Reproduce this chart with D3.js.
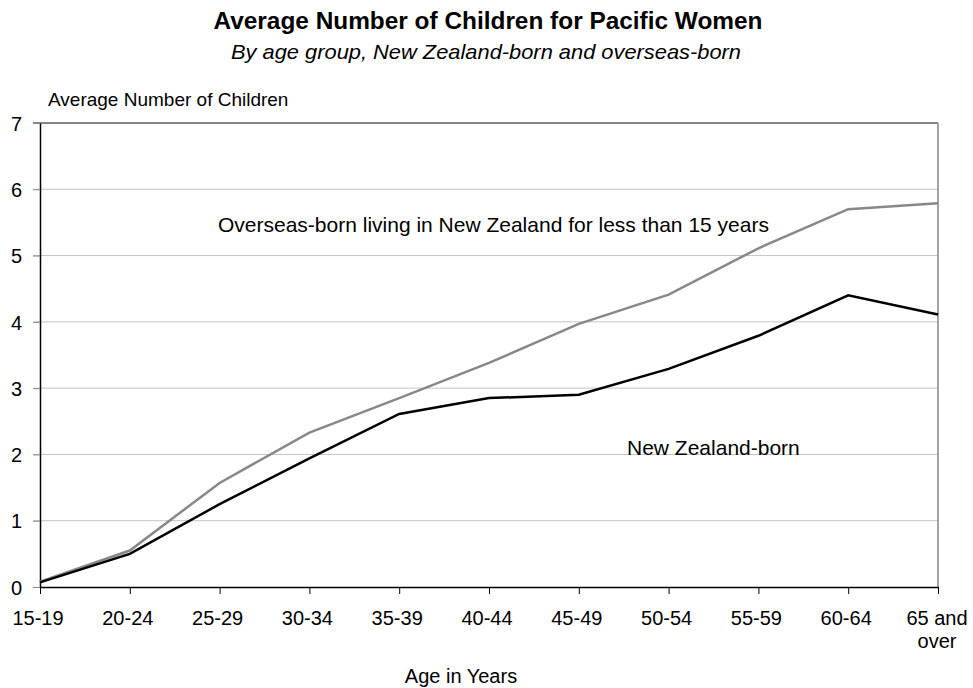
<!DOCTYPE html>
<html>
<head>
<meta charset="utf-8">
<script src="https://cdn.jsdelivr.net/npm/d3@7"></script>
<style>
  html, body { margin: 0; padding: 0; background: #fff; }
  svg { display: block; }
  text { font-family: "Liberation Sans", Arial, sans-serif; fill: #000; }
</style>
</head>
<body>
<svg id="chart" width="973" height="688"></svg>
<script>
// Age groups along the x axis
const ageGroups = ["15-19", "20-24", "25-29", "30-34", "35-39", "40-44",
                   "45-49", "50-54", "55-59", "60-64", "65 and over"];

// Average number of children by age group
const overseasBorn = [0.08, 0.55, 1.57, 2.33, 2.85, 3.38, 3.97, 4.41, 5.11, 5.70, 5.79];
const nzBorn       = [0.07, 0.50, 1.25, 1.94, 2.61, 2.85, 2.90, 3.29, 3.79, 4.40, 4.11];

const yTicks = [0, 1, 2, 3, 4, 5, 6, 7];

const svg = d3.select("#chart");
const plotLeft = 40, plotRight = 938, plotTop = 123, plotBottom = 587;

const x = d3.scalePoint().domain(ageGroups).range([plotLeft, plotRight]);
const y = d3.scaleLinear().domain([0, 7]).range([plotBottom, plotTop]);

// Titles
svg.append("text")
  .attr("x", 488).attr("y", 29)
  .attr("text-anchor", "middle")
  .attr("textLength", 549).attr("lengthAdjust", "spacingAndGlyphs")
  .style("font-weight", "bold")
  .style("font-size", "23px")
  .text("Average Number of Children for Pacific Women");

svg.append("text")
  .attr("x", 486).attr("y", 59)
  .attr("text-anchor", "middle")
  .attr("textLength", 510).attr("lengthAdjust", "spacingAndGlyphs")
  .style("font-style", "italic")
  .style("font-size", "21px")
  .text("By age group, New Zealand-born and overseas-born");

// Horizontal gridlines
svg.append("g")
  .selectAll("line")
  .data(yTicks.filter(d => d > 0 && d < 7))
  .join("line")
  .attr("x1", plotLeft - 7).attr("x2", plotRight)
  .attr("y1", d => y(d)).attr("y2", d => y(d))
  .attr("stroke", "#c4c4c4").attr("stroke-width", 1);

// Plot frame: top and right edges
svg.append("line")
  .attr("x1", plotLeft - 7).attr("x2", plotRight)
  .attr("y1", y(7)).attr("y2", y(7))
  .attr("stroke", "#858585").attr("stroke-width", 2);
svg.append("line")
  .attr("x1", plotRight).attr("x2", plotRight)
  .attr("y1", y(7)).attr("y2", plotBottom)
  .attr("stroke", "#858585").attr("stroke-width", 1.5);

// Y axis
const yAxis = svg.append("g")
  .attr("transform", `translate(${plotLeft},0)`)
  .call(d3.axisLeft(y).tickValues(yTicks).tickFormat(d3.format("d"))
    .tickSize(7).tickSizeOuter(0));
yAxis.select(".domain").attr("stroke", "#000").attr("stroke-width", 1.5);
yAxis.selectAll(".tick line").attr("stroke", "#888");
yAxis.selectAll(".tick text")
  .attr("x", -18).attr("dy", "0.36em")
  .style("font-size", "20px")
  .attr("fill", "#000");

// X axis
const xAxis = svg.append("g")
  .attr("transform", `translate(0,${plotBottom})`)
  .call(d3.axisBottom(x).tickSize(7).tickSizeOuter(0).tickFormat(""));
xAxis.select(".domain").attr("stroke", "#000").attr("stroke-width", 1.5);
xAxis.selectAll(".tick line").attr("stroke", "#000");

// X tick labels; the last one wraps onto two lines
const xLabels = svg.append("g");
ageGroups.forEach(g => {
  const t = xLabels.append("text")
    .attr("x", x(g) - 2).attr("y", 625)
    .attr("text-anchor", "middle")
    .style("font-size", "20px");
  if (g === "65 and over") {
    t.append("tspan").attr("x", x(g) - 1).attr("y", 625).text("65 and");
    t.append("tspan").attr("x", x(g) - 1).attr("y", 648).text("over");
  } else {
    t.text(g);
  }
});

// Axis titles
svg.append("text")
  .attr("x", 48).attr("y", 106)
  .style("font-size", "19px")
  .text("Average Number of Children");

svg.append("text")
  .attr("x", 461).attr("y", 683)
  .attr("text-anchor", "middle")
  .style("font-size", "20px")
  .text("Age in Years");

// Series lines
const line = d3.line()
  .x((d, i) => x(ageGroups[i]))
  .y(d => y(d));

svg.append("path")
  .datum(overseasBorn)
  .attr("d", line)
  .attr("fill", "none")
  .attr("stroke", "#888")
  .attr("stroke-width", 2.5);

svg.append("path")
  .datum(nzBorn)
  .attr("d", line)
  .attr("fill", "none")
  .attr("stroke", "#000")
  .attr("stroke-width", 2.5);

// Series annotations
svg.append("text")
  .attr("x", 218).attr("y", 232)
  .style("font-size", "21px")
  .text("Overseas-born living in New Zealand for less than 15 years");

svg.append("text")
  .attr("x", 627).attr("y", 455)
  .style("font-size", "21px")
  .text("New Zealand-born");
</script>
</body>
</html>
